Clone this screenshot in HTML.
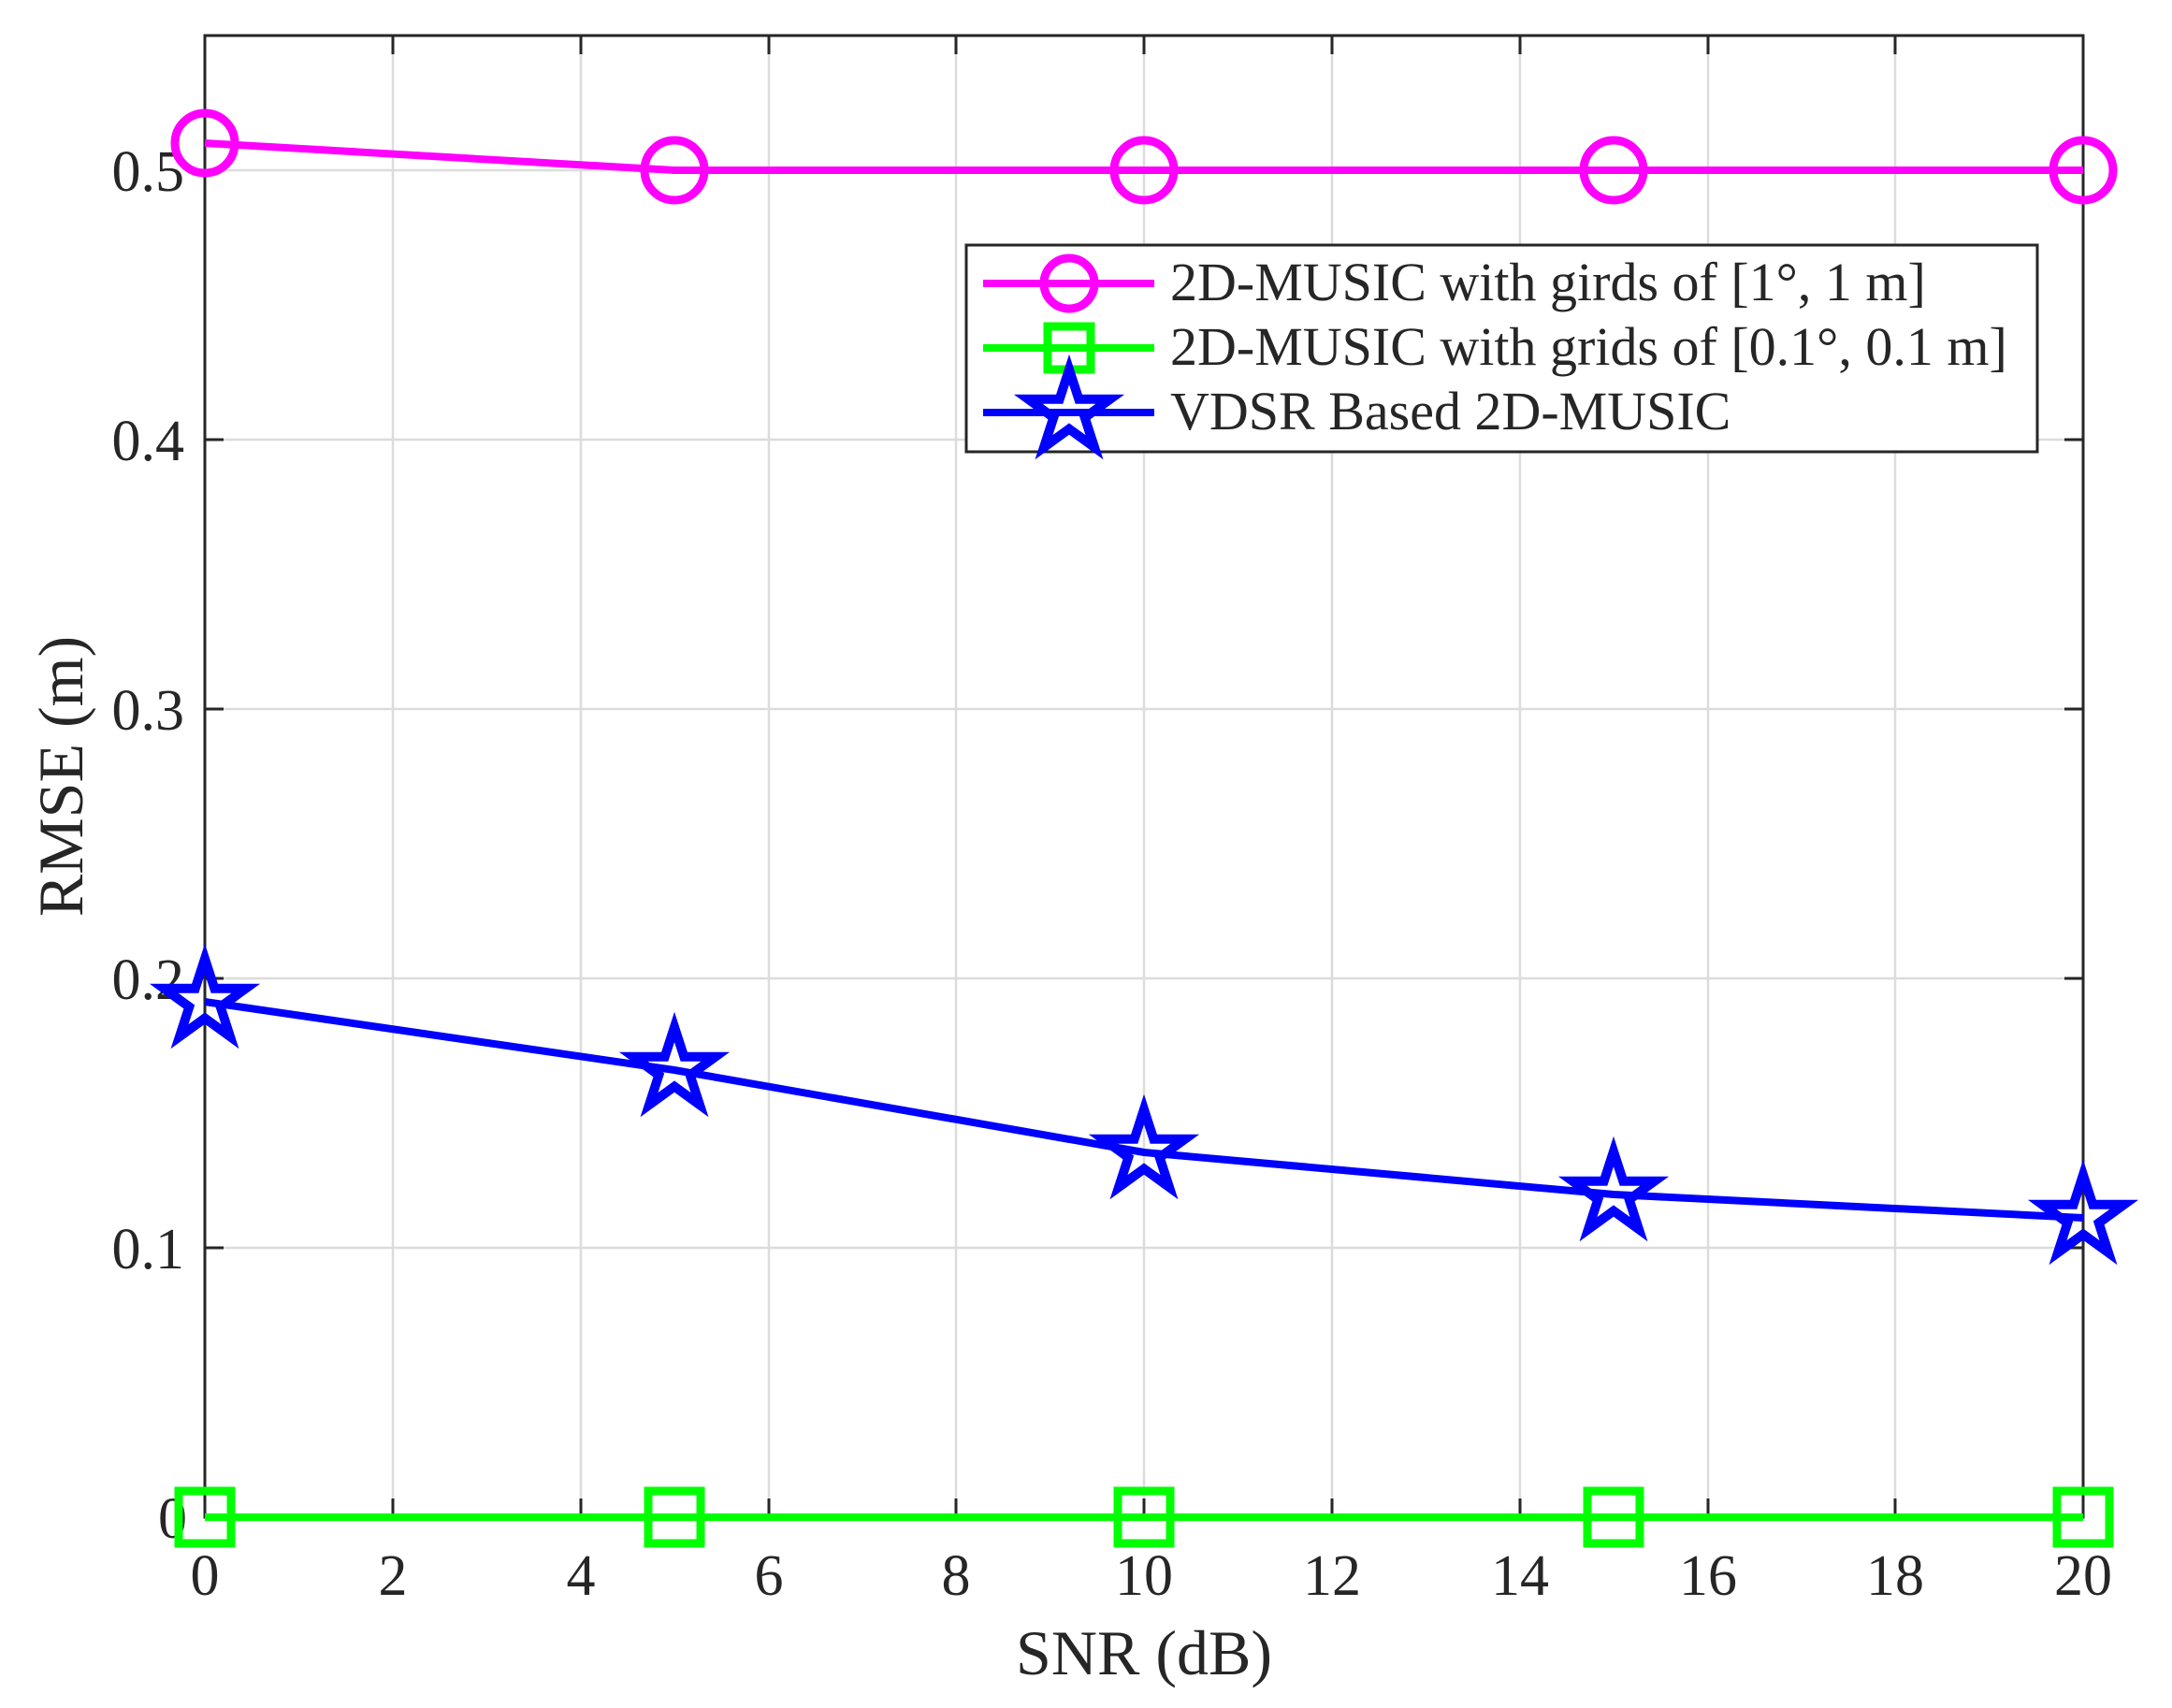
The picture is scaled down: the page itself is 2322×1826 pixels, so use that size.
<!DOCTYPE html>
<html><head><meta charset="utf-8"><style>html,body{margin:0;padding:0;background:#fff}svg{display:block}</style></head>
<body>
<svg xmlns="http://www.w3.org/2000/svg" width="2322" height="1826" viewBox="0 0 2322 1826" font-family="'Liberation Serif', serif" fill="#262626">
<rect width="2322" height="1826" fill="#fff"/>
<defs>
<path id="star" d="M0,-46 L10.3,-14.2 L43.7,-14.2 L16.7,5.4 L27,37.2 L0,17.6 L-27,37.2 L-16.7,5.4 L-43.7,-14.2 L-10.3,-14.2 Z" fill="none" stroke="#0000ff" stroke-width="10" stroke-linejoin="miter"/>
</defs>
<g stroke="#dcdcdc" stroke-width="2.5">
<line x1="420" y1="38" x2="420" y2="1622"/><line x1="621" y1="38" x2="621" y2="1622"/><line x1="822" y1="38" x2="822" y2="1622"/><line x1="1022" y1="38" x2="1022" y2="1622"/><line x1="1223" y1="38" x2="1223" y2="1622"/><line x1="1424" y1="38" x2="1424" y2="1622"/><line x1="1625" y1="38" x2="1625" y2="1622"/><line x1="1826" y1="38" x2="1826" y2="1622"/><line x1="2026" y1="38" x2="2026" y2="1622"/>
<line x1="219" y1="1334" x2="2227" y2="1334"/><line x1="219" y1="1046" x2="2227" y2="1046"/><line x1="219" y1="758" x2="2227" y2="758"/><line x1="219" y1="470" x2="2227" y2="470"/><line x1="219" y1="182" x2="2227" y2="182"/>
</g>
<rect x="219" y="38" width="2008" height="1584" fill="none" stroke="#262626" stroke-width="3"/>
<g stroke="#262626" stroke-width="3">
<line x1="420" y1="1622" x2="420" y2="1602"/><line x1="621" y1="1622" x2="621" y2="1602"/><line x1="822" y1="1622" x2="822" y2="1602"/><line x1="1022" y1="1622" x2="1022" y2="1602"/><line x1="1223" y1="1622" x2="1223" y2="1602"/><line x1="1424" y1="1622" x2="1424" y2="1602"/><line x1="1625" y1="1622" x2="1625" y2="1602"/><line x1="1826" y1="1622" x2="1826" y2="1602"/><line x1="2026" y1="1622" x2="2026" y2="1602"/>
<line x1="420" y1="38" x2="420" y2="58"/><line x1="621" y1="38" x2="621" y2="58"/><line x1="822" y1="38" x2="822" y2="58"/><line x1="1022" y1="38" x2="1022" y2="58"/><line x1="1223" y1="38" x2="1223" y2="58"/><line x1="1424" y1="38" x2="1424" y2="58"/><line x1="1625" y1="38" x2="1625" y2="58"/><line x1="1826" y1="38" x2="1826" y2="58"/><line x1="2026" y1="38" x2="2026" y2="58"/>
<line x1="219" y1="1334" x2="239" y2="1334"/><line x1="219" y1="1046" x2="239" y2="1046"/><line x1="219" y1="758" x2="239" y2="758"/><line x1="219" y1="470" x2="239" y2="470"/><line x1="219" y1="182" x2="239" y2="182"/>
<line x1="2227" y1="1334" x2="2207" y2="1334"/><line x1="2227" y1="1046" x2="2207" y2="1046"/><line x1="2227" y1="758" x2="2207" y2="758"/><line x1="2227" y1="470" x2="2207" y2="470"/><line x1="2227" y1="182" x2="2207" y2="182"/>
</g>
<g font-size="62" text-anchor="middle">
<text x="219" y="1705">0</text><text x="420" y="1705">2</text><text x="621" y="1705">4</text><text x="822" y="1705">6</text><text x="1022" y="1705">8</text><text x="1223" y="1705">10</text><text x="1424" y="1705">12</text><text x="1625" y="1705">14</text><text x="1826" y="1705">16</text><text x="2026" y="1705">18</text><text x="2227" y="1705">20</text>
</g>
<g font-size="62" text-anchor="end">
<text x="200" y="1644">0</text><text x="197" y="1356">0.1</text><text x="197" y="1068">0.2</text><text x="197" y="780">0.3</text><text x="197" y="492">0.4</text><text x="197" y="204">0.5</text>
</g>
<text x="1223" y="1790" font-size="68" text-anchor="middle">SNR (dB)</text>
<text transform="translate(88,830) rotate(-90)" font-size="68" text-anchor="middle">RMSE (m)</text>
<polyline points="219,153 721,182 1223,182 1725,182 2227,182" fill="none" stroke="#ff00ff" stroke-width="8"/>
<g fill="none" stroke="#ff00ff" stroke-width="9">
<circle cx="219" cy="153" r="32"/><circle cx="721" cy="182" r="32"/><circle cx="1223" cy="182" r="32"/><circle cx="1725" cy="182" r="32"/><circle cx="2227" cy="182" r="32"/>
</g>
<polyline points="219,1622 2227,1622" fill="none" stroke="#00ff00" stroke-width="8"/>
<g fill="none" stroke="#00ff00" stroke-width="9">
<rect x="191" y="1594" width="56" height="56"/><rect x="693" y="1594" width="56" height="56"/><rect x="1195" y="1594" width="56" height="56"/><rect x="1697" y="1594" width="56" height="56"/><rect x="2199" y="1594" width="56" height="56"/>
</g>
<polyline points="219,1071 721,1144 1223,1232 1725,1277 2227,1302" fill="none" stroke="#0000ff" stroke-width="8"/>
<use href="#star" x="219" y="1071"/><use href="#star" x="721" y="1144"/><use href="#star" x="1223" y="1232"/><use href="#star" x="1725" y="1277"/><use href="#star" x="2227" y="1302"/>
<rect x="1033" y="262" width="1145" height="221" fill="#fff" stroke="#262626" stroke-width="3"/>
<line x1="1051" y1="303" x2="1234" y2="303" stroke="#ff00ff" stroke-width="8"/>
<circle cx="1143" cy="303" r="27" fill="none" stroke="#ff00ff" stroke-width="9"/>
<line x1="1051" y1="372" x2="1234" y2="372" stroke="#00ff00" stroke-width="8"/>
<rect x="1120" y="349" width="46" height="46" fill="none" stroke="#00ff00" stroke-width="9"/>
<line x1="1051" y1="441" x2="1234" y2="441" stroke="#0000ff" stroke-width="8"/>
<use href="#star" x="1143" y="441"/>
<g font-size="58">
<text x="1251" y="321">2D-MUSIC with girds of [1°, 1 m]</text>
<text x="1251" y="390">2D-MUSIC with grids of [0.1°, 0.1 m]</text>
<text x="1251" y="459">VDSR Based 2D-MUSIC</text>
</g>
</svg>
</body></html>
